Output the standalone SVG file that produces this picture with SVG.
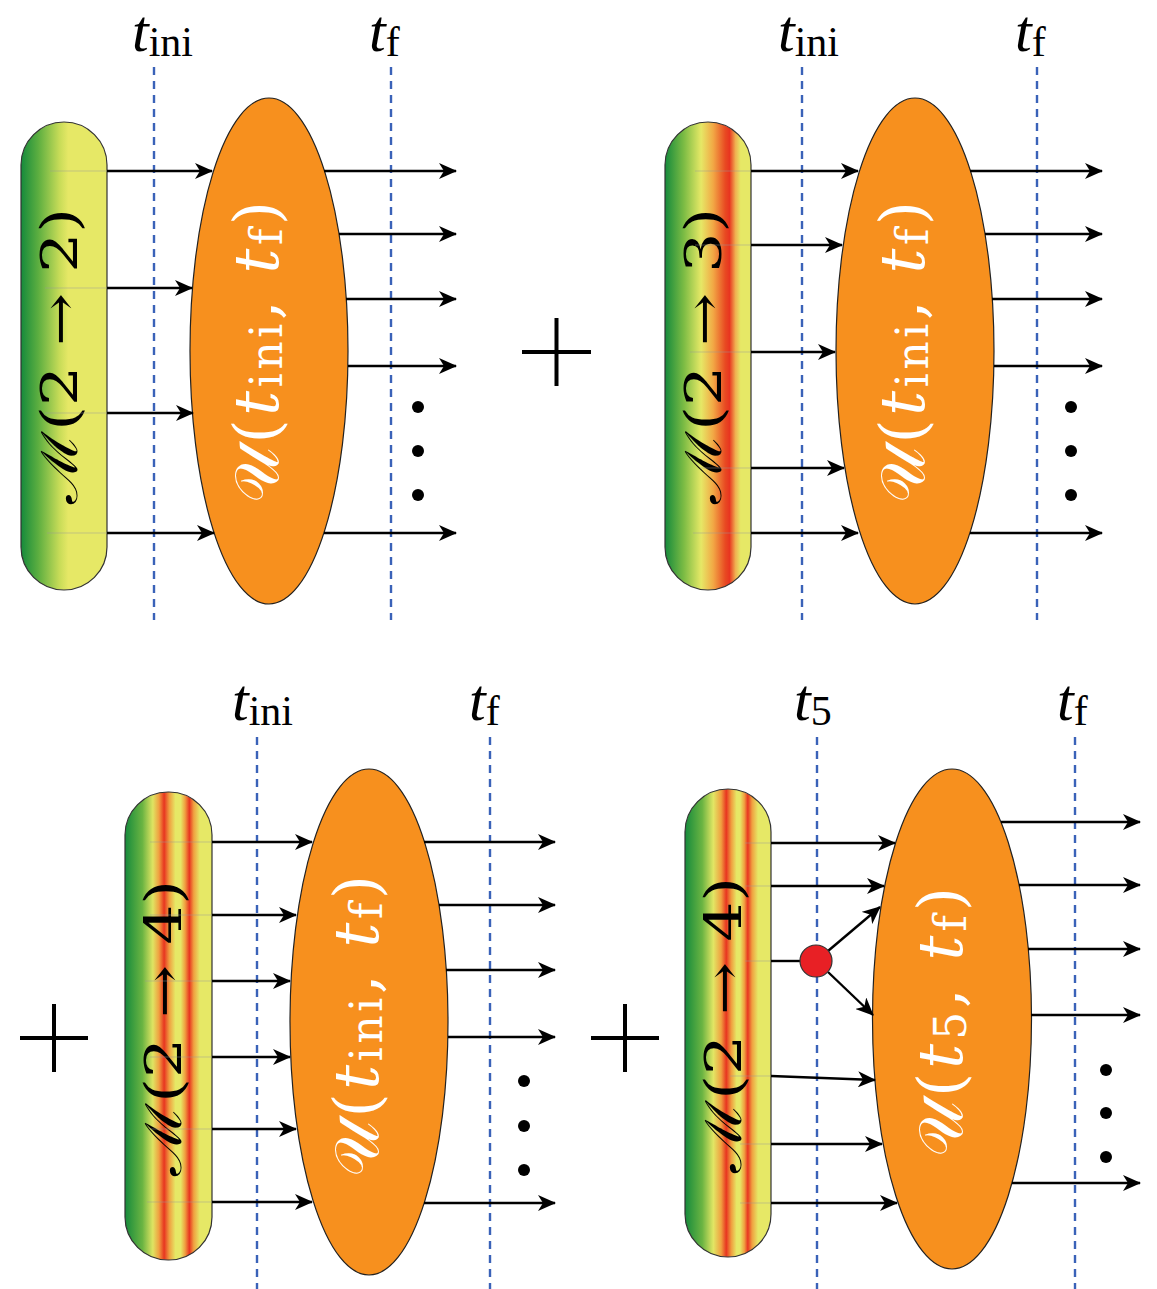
<svg xmlns="http://www.w3.org/2000/svg" width="1157" height="1289" viewBox="0 0 1157 1289">
<defs>
<style>
.bar{stroke:#333;stroke-width:1.2}
.ell{fill:#f7901e;stroke:#222;stroke-width:1.2}
.dash{stroke:#3a62b8;stroke-width:2.4;stroke-dasharray:8,6;fill:none}
.arr{stroke:#000;stroke-width:2.4;fill:none;marker-end:url(#ah)}
.faint{stroke:#999;stroke-width:1;opacity:0.45}
.plus{stroke:#000;stroke-width:4}
.lbl{font-family:"Liberation Serif","DejaVu Serif",serif;font-size:60px;fill:#000}
.btxt{font-family:"DejaVu Serif","Liberation Serif",serif;font-size:50px;fill:#000}
.etxt{font-family:"DejaVu Serif","Liberation Serif",serif;font-size:62px;fill:#fff}
.dot{fill:#000}
</style>
<marker id="ah" viewBox="0 0 18 16" refX="17" refY="8" markerWidth="18" markerHeight="16" markerUnits="userSpaceOnUse" orient="auto">
<path d="M0,0 L18,8 L0,16 L5,8 Z" fill="#000"/>
</marker>
<linearGradient id="g1" x1="0" y1="0" x2="1" y2="0">
<stop offset="0" stop-color="#158a3c"/><stop offset="0.2" stop-color="#5cae40"/><stop offset="0.45" stop-color="#c8dc58"/><stop offset="0.55" stop-color="#e6e866"/><stop offset="1" stop-color="#e6e866"/>
</linearGradient>
<linearGradient id="g2" x1="0" y1="0" x2="1" y2="0">
<stop offset="0" stop-color="#158a3c"/><stop offset="0.22" stop-color="#7cbc44"/><stop offset="0.42" stop-color="#e6e866"/><stop offset="0.56" stop-color="#f2a845"/><stop offset="0.7" stop-color="#e84a22"/><stop offset="0.75" stop-color="#e83520"/><stop offset="0.82" stop-color="#f0b050"/><stop offset="0.88" stop-color="#e6e866"/><stop offset="1" stop-color="#e6e866"/>
</linearGradient>
<linearGradient id="g3" x1="0" y1="0" x2="1" y2="0">
<stop offset="0" stop-color="#158a3c"/><stop offset="0.2" stop-color="#6ab442"/><stop offset="0.32" stop-color="#dfe462"/><stop offset="0.39" stop-color="#f0a040"/><stop offset="0.45" stop-color="#e83520"/><stop offset="0.51" stop-color="#f0a040"/><stop offset="0.58" stop-color="#e6e866"/><stop offset="0.64" stop-color="#e6e866"/><stop offset="0.69" stop-color="#f0a040"/><stop offset="0.74" stop-color="#e83520"/><stop offset="0.79" stop-color="#f0a040"/><stop offset="0.86" stop-color="#e6e866"/><stop offset="1" stop-color="#e6e866"/>
</linearGradient>
<linearGradient id="g4" x1="0" y1="0" x2="1" y2="0">
<stop offset="0" stop-color="#158a3c"/><stop offset="0.2" stop-color="#6ab442"/><stop offset="0.33" stop-color="#e2e664"/><stop offset="0.42" stop-color="#f0a040"/><stop offset="0.48" stop-color="#e83520"/><stop offset="0.54" stop-color="#f0a040"/><stop offset="0.6" stop-color="#e6e866"/><stop offset="0.64" stop-color="#e6e866"/><stop offset="0.69" stop-color="#f0a040"/><stop offset="0.73" stop-color="#e83520"/><stop offset="0.78" stop-color="#f0a040"/><stop offset="0.85" stop-color="#e6e866"/><stop offset="1" stop-color="#e6e866"/>
</linearGradient>
</defs>
<rect width="1157" height="1289" fill="#fff"/>

<g id="guides">
<line class="dash" x1="154" y1="67" x2="154" y2="620"/>
<line class="dash" x1="391" y1="67" x2="391" y2="620"/>
<line class="dash" x1="802" y1="67" x2="802" y2="620"/>
<line class="dash" x1="1037" y1="67" x2="1037" y2="620"/>
<line class="dash" x1="257" y1="737" x2="257" y2="1289"/>
<line class="dash" x1="490" y1="737" x2="490" y2="1289"/>
<line class="dash" x1="817" y1="737" x2="817" y2="1289"/>
<line class="dash" x1="1075" y1="737" x2="1075" y2="1289"/>
</g>

<g id="labels">
<text class="lbl" x="132" y="51"><tspan font-style="italic">t</tspan><tspan font-size="42" dy="5">ini</tspan></text>
<text class="lbl" x="369" y="51"><tspan font-style="italic">t</tspan><tspan font-size="42" dy="5">f</tspan></text>
<text class="lbl" x="778" y="51"><tspan font-style="italic">t</tspan><tspan font-size="42" dy="5">ini</tspan></text>
<text class="lbl" x="1015" y="51"><tspan font-style="italic">t</tspan><tspan font-size="42" dy="5">f</tspan></text>
<text class="lbl" x="232" y="720"><tspan font-style="italic">t</tspan><tspan font-size="42" dy="5">ini</tspan></text>
<text class="lbl" x="469" y="720"><tspan font-style="italic">t</tspan><tspan font-size="42" dy="5">f</tspan></text>
<text class="lbl" x="794" y="720"><tspan font-style="italic">t</tspan><tspan font-size="42" dy="5">5</tspan></text>
<text class="lbl" x="1057" y="720"><tspan font-style="italic">t</tspan><tspan font-size="42" dy="5">f</tspan></text>
</g>

<g id="bar-tl">
<rect class="bar" x="21" y="122" width="86" height="468" rx="43" fill="url(#g1)"/>
<text class="btxt" transform="translate(60,356) rotate(-90)" text-anchor="middle" dominant-baseline="central" textLength="296" lengthAdjust="spacingAndGlyphs">ℳ(2 → 2)</text>
</g>
<g id="ell-tl">
<ellipse class="ell" cx="269" cy="351" rx="79" ry="253"/>
<text class="etxt" transform="translate(256,352) rotate(-90)" text-anchor="middle" dominant-baseline="central" textLength="302" lengthAdjust="spacing"><tspan>𝒰(</tspan><tspan font-style="italic">t</tspan><tspan font-size="44" dy="10">ini</tspan><tspan dy="-10">, </tspan><tspan font-style="italic">t</tspan><tspan font-size="44" dy="10">f</tspan><tspan dy="-10">)</tspan></text>
</g>

<g id="bar-tr">
<rect class="bar" x="665" y="122" width="86" height="468" rx="43" fill="url(#g2)"/>
<text class="btxt" transform="translate(704,356) rotate(-90)" text-anchor="middle" dominant-baseline="central" textLength="296" lengthAdjust="spacingAndGlyphs">ℳ(2 → 3)</text>
</g>
<g id="ell-tr">
<ellipse class="ell" cx="915" cy="351" rx="79" ry="253"/>
<text class="etxt" transform="translate(902,352) rotate(-90)" text-anchor="middle" dominant-baseline="central" textLength="302" lengthAdjust="spacing"><tspan>𝒰(</tspan><tspan font-style="italic">t</tspan><tspan font-size="44" dy="10">ini</tspan><tspan dy="-10">, </tspan><tspan font-style="italic">t</tspan><tspan font-size="44" dy="10">f</tspan><tspan dy="-10">)</tspan></text>
</g>

<g id="bar-bl">
<rect class="bar" x="125" y="792" width="87" height="468" rx="43" fill="url(#g3)"/>
<text class="btxt" transform="translate(164,1028) rotate(-90)" text-anchor="middle" dominant-baseline="central" textLength="296" lengthAdjust="spacingAndGlyphs">ℳ(2 → 4)</text>
</g>
<g id="ell-bl">
<ellipse class="ell" cx="369" cy="1022" rx="79" ry="253"/>
<text class="etxt" transform="translate(356,1026) rotate(-90)" text-anchor="middle" dominant-baseline="central" textLength="302" lengthAdjust="spacing"><tspan>𝒰(</tspan><tspan font-style="italic">t</tspan><tspan font-size="44" dy="10">ini</tspan><tspan dy="-10">, </tspan><tspan font-style="italic">t</tspan><tspan font-size="44" dy="10">f</tspan><tspan dy="-10">)</tspan></text>
</g>

<g id="bar-br">
<rect class="bar" x="685" y="789" width="86" height="468" rx="43" fill="url(#g4)"/>
<text class="btxt" transform="translate(724,1025) rotate(-90)" text-anchor="middle" dominant-baseline="central" textLength="296" lengthAdjust="spacingAndGlyphs">ℳ(2 → 4)</text>
</g>
<g id="ell-br">
<ellipse class="ell" cx="952" cy="1019" rx="79.5" ry="250"/>
<text class="etxt" transform="translate(940,1022) rotate(-90)" text-anchor="middle" dominant-baseline="central" textLength="270" lengthAdjust="spacing"><tspan>𝒰(</tspan><tspan font-style="italic">t</tspan><tspan font-size="44" dy="10">5</tspan><tspan dy="-10">, </tspan><tspan font-style="italic">t</tspan><tspan font-size="44" dy="10">f</tspan><tspan dy="-10">)</tspan></text>
</g>

<g id="connectors">
<line class="faint" x1="50" y1="171" x2="107" y2="171"/>
<line class="faint" x1="45" y1="288" x2="107" y2="288"/>
<line class="faint" x1="45" y1="413" x2="107" y2="413"/>
<line class="faint" x1="47" y1="533" x2="107" y2="533"/>
<line class="arr" x1="107" y1="171" x2="212" y2="171"/>
<line class="arr" x1="107" y1="288" x2="192" y2="288"/>
<line class="arr" x1="107" y1="413" x2="193" y2="413"/>
<line class="arr" x1="107" y1="533" x2="214" y2="533"/>
<line class="arr" x1="324" y1="171" x2="456" y2="171"/>
<line class="arr" x1="339" y1="234" x2="456" y2="234"/>
<line class="arr" x1="346" y1="299" x2="456" y2="299"/>
<line class="arr" x1="348" y1="366" x2="456" y2="366"/>
<line class="arr" x1="324" y1="533" x2="456" y2="533"/>

<line class="faint" x1="695" y1="171" x2="751" y2="171"/>
<line class="faint" x1="695" y1="245" x2="751" y2="245"/>
<line class="faint" x1="690" y1="352" x2="751" y2="352"/>
<line class="faint" x1="700" y1="468" x2="751" y2="468"/>
<line class="faint" x1="693" y1="533" x2="751" y2="533"/>
<line class="arr" x1="751" y1="171" x2="858" y2="171"/>
<line class="arr" x1="751" y1="245" x2="842" y2="245"/>
<line class="arr" x1="751" y1="352" x2="835" y2="352"/>
<line class="arr" x1="751" y1="468" x2="844" y2="468"/>
<line class="arr" x1="751" y1="533" x2="858" y2="533"/>
<line class="arr" x1="970" y1="171" x2="1102" y2="171"/>
<line class="arr" x1="985" y1="234" x2="1102" y2="234"/>
<line class="arr" x1="992" y1="299" x2="1102" y2="299"/>
<line class="arr" x1="994" y1="366" x2="1102" y2="366"/>
<line class="arr" x1="970" y1="533" x2="1102" y2="533"/>

<line class="faint" x1="150" y1="842" x2="212" y2="842"/>
<line class="faint" x1="150" y1="915" x2="212" y2="915"/>
<line class="faint" x1="145" y1="981" x2="212" y2="981"/>
<line class="faint" x1="150" y1="1057" x2="212" y2="1057"/>
<line class="faint" x1="150" y1="1129" x2="212" y2="1129"/>
<line class="faint" x1="147" y1="1202" x2="212" y2="1202"/>
<line class="arr" x1="212" y1="842" x2="312" y2="842"/>
<line class="arr" x1="212" y1="915" x2="296" y2="915"/>
<line class="arr" x1="212" y1="981" x2="290" y2="981"/>
<line class="arr" x1="212" y1="1057" x2="290" y2="1057"/>
<line class="arr" x1="212" y1="1129" x2="296" y2="1129"/>
<line class="arr" x1="212" y1="1202" x2="312" y2="1202"/>
<line class="arr" x1="424" y1="842" x2="555" y2="842"/>
<line class="arr" x1="439" y1="905" x2="555" y2="905"/>
<line class="arr" x1="446" y1="970" x2="555" y2="970"/>
<line class="arr" x1="448" y1="1037" x2="555" y2="1037"/>
<line class="arr" x1="424" y1="1203" x2="555" y2="1203"/>

<line class="faint" x1="745" y1="843" x2="771" y2="843"/>
<line class="faint" x1="745" y1="886" x2="771" y2="886"/>
<line class="faint" x1="745" y1="961" x2="771" y2="961"/>
<line class="faint" x1="730" y1="1076" x2="771" y2="1076"/>
<line class="faint" x1="740" y1="1144" x2="771" y2="1144"/>
<line class="faint" x1="740" y1="1203" x2="771" y2="1203"/>
<line class="arr" x1="771" y1="843" x2="895" y2="843"/>
<line class="arr" x1="771" y1="886" x2="884" y2="886"/>
<line stroke="#000" stroke-width="2.4" x1="771" y1="961" x2="800" y2="961"/>
<line class="arr" x1="828" y1="951" x2="880" y2="907"/>
<line class="arr" x1="828" y1="972" x2="873" y2="1015"/>
<line class="arr" x1="771" y1="1076" x2="875" y2="1080"/>
<line class="arr" x1="771" y1="1144" x2="882" y2="1144"/>
<line class="arr" x1="771" y1="1203" x2="897" y2="1203"/>
<line class="arr" x1="1001" y1="822" x2="1140" y2="822"/>
<line class="arr" x1="1019" y1="885" x2="1140" y2="885"/>
<line class="arr" x1="1028" y1="949" x2="1140" y2="949"/>
<line class="arr" x1="1031" y1="1015" x2="1140" y2="1015"/>
<line class="arr" x1="1012" y1="1183" x2="1140" y2="1183"/>
</g>

<g id="vertex">
<circle cx="816" cy="961" r="16" fill="#e82025" stroke="#333" stroke-width="1.2"/>
</g>

<g id="dots">
<circle class="dot" cx="418" cy="407" r="6"/><circle class="dot" cx="418" cy="451" r="6"/><circle class="dot" cx="418" cy="495" r="6"/>
<circle class="dot" cx="1071" cy="407" r="6"/><circle class="dot" cx="1071" cy="451" r="6"/><circle class="dot" cx="1071" cy="495" r="6"/>
<circle class="dot" cx="524" cy="1081" r="6"/><circle class="dot" cx="524" cy="1126" r="6"/><circle class="dot" cx="524" cy="1170" r="6"/>
<circle class="dot" cx="1106" cy="1070" r="6"/><circle class="dot" cx="1106" cy="1113" r="6"/><circle class="dot" cx="1106" cy="1157" r="6"/>
</g>

<g id="plus-signs">
<line class="plus" x1="522" y1="352" x2="591" y2="352"/><line class="plus" x1="556.5" y1="318" x2="556.5" y2="386"/>
<line class="plus" x1="20" y1="1038" x2="88" y2="1038"/><line class="plus" x1="54" y1="1004" x2="54" y2="1072"/>
<line class="plus" x1="591" y1="1038" x2="659" y2="1038"/><line class="plus" x1="625" y1="1004" x2="625" y2="1072"/>
</g>
</svg>
